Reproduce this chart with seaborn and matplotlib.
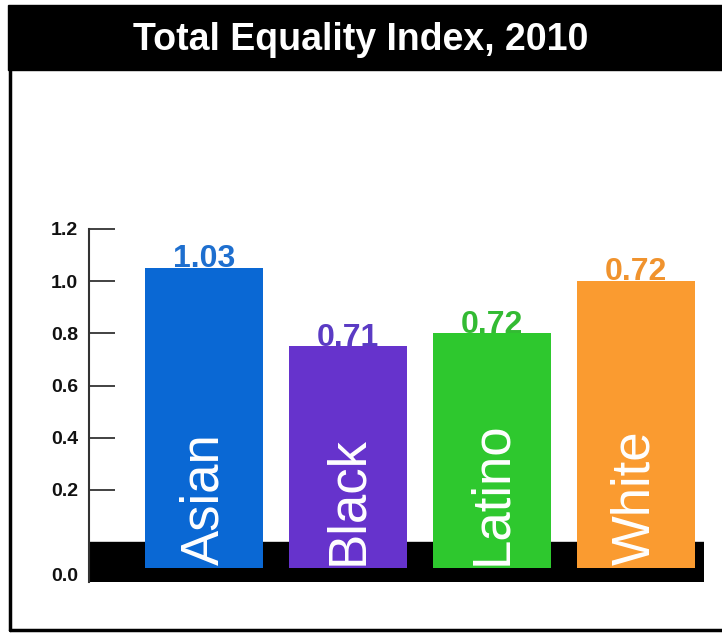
import matplotlib
matplotlib.use('Agg')
import matplotlib.pyplot as plt
from matplotlib import font_manager
from matplotlib.patches import Rectangle
from matplotlib.lines import Line2D
import seaborn as sns
import pandas as pd

# Data
groups = ['Asian', 'Black', 'Latino', 'White']
bar_heights = [1.05, 0.75, 0.80, 1.00]
value_labels = ['1.03', '0.71', '0.72', '0.72']
bar_colors = ['#0A68D4', '#6633CC', '#2EC82E', '#FA9B30']
label_colors = ['#1E6FCF', '#5B3BC4', '#33BB33', '#F0932E']
ytick_values = [0.2, 0.4, 0.6, 0.8, 1.0, 1.2]

sns.set_theme(style='white')
plt.rcParams['font.family'] = ['Liberation Sans', 'DejaVu Sans']

# narrow font for the labels inside the bars, if available
try:
    font_manager.findfont('Liberation Sans Narrow', fallback_to_default=False)
    narrow = 'Liberation Sans Narrow'
    inside_size = 46
except Exception:
    narrow = 'Liberation Sans'
    inside_size = 38

df = pd.DataFrame({'group': groups, 'value': bar_heights})

fig = plt.figure(figsize=(7.22, 6.34), dpi=100)
ax = fig.add_axes([89 / 722, 1 - 582 / 634, 615 / 722, 353 / 634])

sns.barplot(data=df, x='group', y='value', hue='group',
            palette=dict(zip(groups, bar_colors)), legend=False,
            saturation=1, width=0.82, ax=ax, zorder=2)

# bars continue down into the black base band
bar_floor = -0.10
for bar in ax.patches:
    bar.set_y(bar_floor)
    bar.set_height(bar.get_height() - bar_floor)
    bar.set_linewidth(0)

ax.axhspan(-0.153, 0, color='black', zorder=1)

ax.set_xlim(-0.80, 3.476)
ax.set_ylim(-0.153, 1.2)

for i, (g, v) in enumerate(zip(groups, bar_heights)):
    ax.text(i, v + 0.003, value_labels[i], ha='center', va='baseline',
            fontsize=23, fontweight='bold', color=label_colors[i], zorder=3)
    ax.text(i, -0.088, g, rotation=90, ha='center', va='bottom',
            fontsize=inside_size, color='white', family=narrow, zorder=3)

ax.set_yticks([-0.126] + ytick_values)
ax.set_yticklabels(['0.0'] + [f'{t:.1f}' for t in ytick_values],
                   fontsize=14, fontweight='bold', color='#111111')
ax.tick_params(axis='y', direction='in', length=19, width=1.3,
               color='#333333', pad=8, left=True)
ax.set_xticks([])
ax.set_xlabel('')
ax.set_ylabel('')
for side in ['top', 'right', 'bottom']:
    ax.spines[side].set_visible(False)
ax.spines['left'].set_color('#333333')
ax.spines['left'].set_linewidth(1.5)
ax.set_facecolor('none')

# title band and outer frame
fig.add_artist(Rectangle((8 / 722, 1 - 70 / 634), 1 - 8 / 722, 65 / 634,
                         transform=fig.transFigure, color='black', zorder=0))
fig.text(0.5, 1 - 40 / 634, 'Total Equality Index, 2010', ha='center',
         va='center', color='white', fontsize=27, fontweight='bold')
fig.add_artist(Line2D([10 / 722, 10 / 722], [1 - 70 / 634, 1 - 630 / 634],
                      transform=fig.transFigure, color='black', lw=2.5))
fig.add_artist(Line2D([10 / 722, 1], [1 - 630 / 634, 1 - 630 / 634],
                      transform=fig.transFigure, color='black', lw=2.5))

fig.savefig('out.png', dpi=100)
